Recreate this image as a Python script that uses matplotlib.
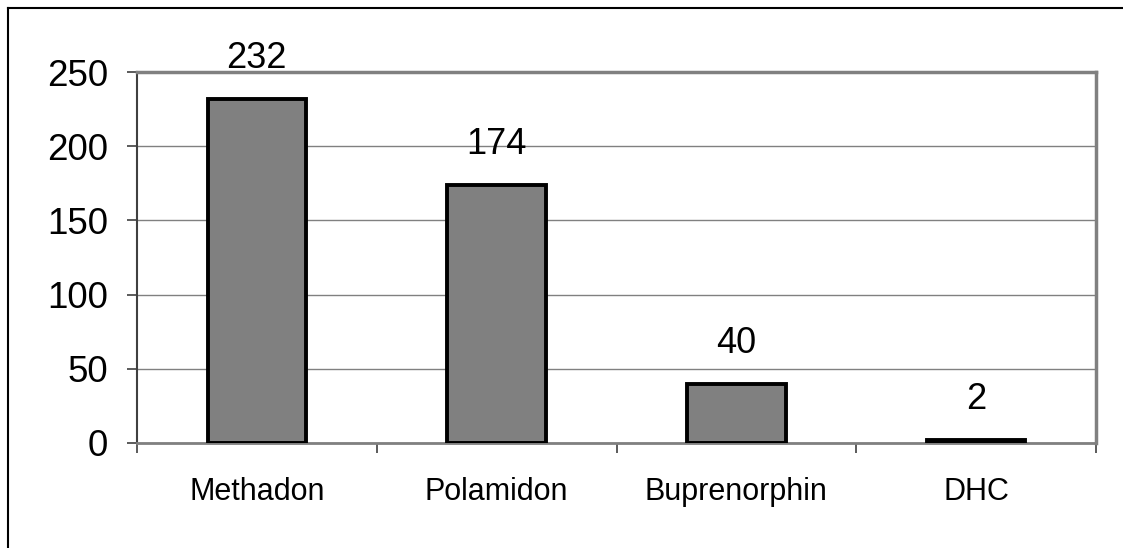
import matplotlib
matplotlib.use("Agg")
import matplotlib.pyplot as plt
from matplotlib.lines import Line2D
import numpy as np

categories = ["Methadon", "Polamidon", "Buprenorphin", "DHC"]
values = [232, 174, 40, 2]
yticks = [0, 50, 100, 150, 200, 250]

plt.rcParams['font.family'] = ['Liberation Sans', 'DejaVu Sans']

W, H = 1123, 548
fig = plt.figure(figsize=(W / 100, H / 100), dpi=100)
ax = fig.add_axes([137 / W, 1 - 443 / H, (1096 - 137) / W, (443 - 72) / H])

x = np.arange(len(categories))
ax.bar(x, values, width=0.41, color="#808080", edgecolor="black", linewidth=2.8, zorder=3)

for xi, v in zip(x, values):
    ax.annotate(str(v), (xi, v), xytext=(0, 22), textcoords="offset points",
                ha="center", va="baseline", fontsize=26, color="black")

ax.set_xlim(-0.5, len(categories) - 0.5)
ax.set_ylim(0, 250)
ax.set_yticks(yticks)
ax.set_yticklabels([str(t) for t in yticks])
ax.tick_params(axis="y", length=7, width=1.2, color="#404040", pad=14, labelsize=26.5)

ax.set_xticks(x)
ax.set_xticklabels(categories)
ax.tick_params(axis="x", which="major", length=0, pad=24.5, labelsize=22)
ax.set_xticks(np.arange(-0.5, len(categories)), minor=True)
ax.tick_params(axis="x", which="minor", length=7, width=1.2, color="#404040")

ax.yaxis.grid(True, color="#808080", linewidth=1.0, zorder=0)
ax.set_axisbelow(True)

ax.spines["left"].set_color("#404040")
ax.spines["left"].set_linewidth(1.5)
ax.spines["bottom"].set_color("#808080")
ax.spines["bottom"].set_linewidth(2)
ax.spines["top"].set_color("#808080")
ax.spines["top"].set_linewidth(2.5)
ax.spines["right"].set_color("#808080")
ax.spines["right"].set_linewidth(2.5)

# Figure frame (left and top edges visible)
fx, fy = 7.5 / W, 1 - 7.5 / H
fig.add_artist(Line2D([fx, fx], [0, fy], transform=fig.transFigure, color="black", linewidth=1.5))
fig.add_artist(Line2D([fx, 1], [fy, fy], transform=fig.transFigure, color="black", linewidth=1.5))

fig.savefig("out.png", dpi=100)
